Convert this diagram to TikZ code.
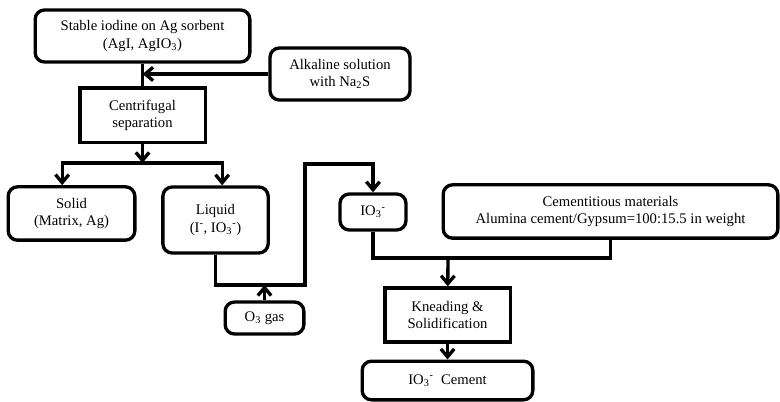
\documentclass[tikz,border=0pt]{standalone}
\usepackage{fontspec}
\setmainfont{Liberation Serif}
\usetikzlibrary{arrows.meta}
\newcommand{\iothree}{IO\textsubscript{3}\textsuperscript{-}}
\tikzstyle{flow} = [
  x=0.75pt,
  y=-0.75pt,
  line width=2.5pt,
  font=\fontsize{11}{13}\selectfont,
  >={Straight Barb[length=6pt,width=10pt]},
]
\tikzstyle{box} = [draw, rectangle, rounded corners=7pt, align=center, inner sep=2pt]
\tikzstyle{sqbox} = [draw, rectangle, align=center, inner sep=2pt]

\begin{document}
\begin{tikzpicture}[flow]
      \useasboundingbox (0,0) rectangle (780,402);

      % Boxes
      \node[box, minimum width=161pt, minimum height=39pt] (src) at (142.5,36)
        {Stable iodine on Ag sorbent\\(AgI, AgIO\textsubscript{3})};
      \node[box, minimum width=105pt, minimum height=39pt] (alk) at (340,74)
        {Alkaline solution\\with Na\textsubscript{2}S};
      \node[sqbox, minimum width=94pt, minimum height=41pt] (centr) at (142.5,115.5)
        {Centrifugal\\separation};
      \node[box, minimum width=95pt, minimum height=40pt] (solid) at (71.5,213.5)
        {Solid\\(Matrix, Ag)};
      \node[box, minimum width=79pt, minimum height=49.5pt] (liquid) at (215.5,220)
        {Liquid\\(I\textsuperscript{-}, \iothree)};
      \node[box, minimum width=59pt, minimum height=24pt] (ozone) at (264.5,318)
        {O\textsubscript{3} gas};
      \node[box, minimum width=49.5pt, minimum height=27pt] (io3) at (373,212)
        {\iothree};
      \node[box, minimum width=251pt, minimum height=40pt] (cem) at (610.5,211.5)
        {Cementitious materials\\Alumina cement/Gypsum=100:15.5 in weight};
      \node[sqbox, minimum width=94pt, minimum height=40.5pt] (knead) at (447.5,315)
        {Kneading \&\\Solidification};
      \node[box, minimum width=128pt, minimum height=29pt] (final) at (447.5,380.5)
        {\iothree\ \ Cement};

      % Junctions
      \coordinate (split) at (142.5,163);
      \coordinate (bend1) at (305,285);
      \coordinate (bend2) at (305,164);
      \coordinate (join) at (448,258);

      % Arrows
      \draw (src) -- (centr);
      \draw[->] (alk) -- (alk -| src);
      \draw[->] (centr) -- (split);
      \draw[->] (split) -| ([xshift=-7pt]solid.north);
      \draw[->] (split) -| ([xshift=5pt]liquid.north);
      \draw[->] (liquid) |- (bend1) -- (bend2) -| (io3);
      \draw[->] (ozone) -- (ozone |- bend1);
      \draw (io3) |- (join) -| (cem);
      \draw[->] (join) -- (knead);
      \draw[->] (knead) -- (final);
    \end{tikzpicture}
\end{document}
